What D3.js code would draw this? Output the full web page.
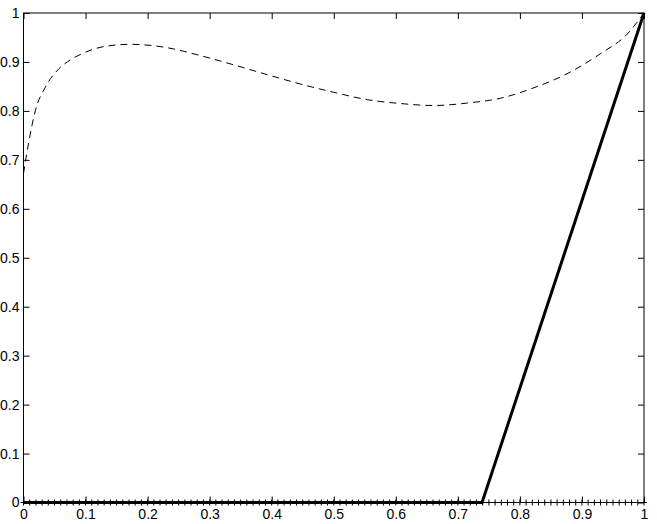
<!DOCTYPE html>
<html>
<head>
<meta charset="utf-8">
<script src="https://cdn.jsdelivr.net/npm/d3@7"></script>
<style>
  body { margin: 0; background: #fff; }
</style>
</head>
<body>
<div id="chart"></div>
<script>
// dashed curve
const curveX = [0, 0.009, 0.019, 0.035, 0.057, 0.078, 0.10, 0.132, 0.172, 0.232, 0.285, 0.339, 0.393, 0.446, 0.50, 0.554, 0.608, 0.661, 0.715, 0.769, 0.822, 0.876, 0.93, 0.973, 1];
const curveY = [0.672, 0.740, 0.80, 0.848, 0.886, 0.906, 0.92, 0.932, 0.936, 0.929, 0.913, 0.894, 0.874, 0.855, 0.838, 0.823, 0.815, 0.811, 0.816, 0.826, 0.847, 0.876, 0.917, 0.957, 1];

// thick solid line
const solidX = [0, 0.739, 1];
const solidY = [0, 0, 1];

// markers along y = 0, every 0.01
const markX = d3.range(0, 101).map(i => i / 100);

const ticks = [0, 0.1, 0.2, 0.3, 0.4, 0.5, 0.6, 0.7, 0.8, 0.9, 1];
const tickLabels = ["0", "0.1", "0.2", "0.3", "0.4", "0.5", "0.6", "0.7", "0.8", "0.9", "1"];

const width = 657;
const height = 524;

const x = d3.scaleLinear().domain([0, 1]).range([23.5, 644]);
const y = d3.scaleLinear().domain([0, 1]).range([502.5, 13]);

const svg = d3.select("#chart")
     .append("svg")
          .attr("width", width)
          .attr("height", height);

// box
svg.append("rect")
     .attr("x", x(0))
     .attr("y", y(1))
     .attr("width", x(1) - x(0))
     .attr("height", y(0) - y(1))
     .attr("fill", "none")
     .attr("stroke", "#000")
     .attr("stroke-width", 1);

const fmt = (d, i) => tickLabels[i];

// label text style for the axis groups
function labelStyle(g) {
     g.attr("font-family", "'Liberation Sans', Arial, Helvetica, sans-serif")
      .attr("font-size", 14);
     g.selectAll("text").attr("fill", "#000");
}

// inside ticks on all four sides
svg.append("g")
     .attr("transform", `translate(0, ${y(0)})`)
     .call(d3.axisTop(x).tickValues(ticks).tickSize(6).tickFormat(""))
     .call(g => g.select(".domain").remove());

svg.append("g")
     .attr("transform", `translate(0, ${y(0)})`)
     .call(d3.axisBottom(x).tickValues(ticks).tickSize(0).tickPadding(7).tickFormat(fmt))
     .call(g => g.select(".domain").remove())
     .call(labelStyle);

svg.append("g")
     .attr("transform", `translate(0, ${y(1)})`)
     .call(d3.axisBottom(x).tickValues(ticks).tickSize(6).tickFormat(""))
     .call(g => g.select(".domain").remove());

svg.append("g")
     .attr("transform", `translate(${x(0)}, 0)`)
     .call(d3.axisRight(y).tickValues(ticks).tickSize(6).tickFormat(""))
     .call(g => g.select(".domain").remove());

svg.append("g")
     .attr("transform", `translate(${x(0)}, 0)`)
     .call(d3.axisLeft(y).tickValues(ticks).tickSize(0).tickPadding(4).tickFormat(fmt))
     .call(g => g.select(".domain").remove())
     .call(labelStyle);

svg.append("g")
     .attr("transform", `translate(${x(1)}, 0)`)
     .call(d3.axisLeft(y).tickValues(ticks).tickSize(6).tickFormat(""))
     .call(g => g.select(".domain").remove());

svg.selectAll(".tick line").attr("stroke", "#000");

// dashed curve
const dashLine = d3.line()
     .x(d => x(d[0]))
     .y(d => y(d[1]))
     .curve(d3.curveMonotoneX);

svg.append("path")
     .datum(d3.zip(curveX, curveY))
     .attr("d", dashLine)
     .attr("fill", "none")
     .attr("stroke", "#000")
     .attr("stroke-width", 1)
     .attr("stroke-dasharray", "7,5");

// thick solid line
svg.append("path")
     .datum(d3.zip(solidX, solidY))
     .attr("d", d3.line().x(d => x(d[0])).y(d => y(d[1])))
     .attr("fill", "none")
     .attr("stroke", "#000")
     .attr("stroke-width", 3)
     .attr("stroke-linejoin", "miter");

// plus markers at y = 0
svg.append("g")
     .selectAll("path")
     .data(markX)
     .enter()
          .append("path")
               .attr("d", d => `M${x(d) - 3},${y(0)}H${x(d) + 3}M${x(d)},${y(0) - 3}V${y(0) + 3}`)
               .attr("stroke", "#000")
               .attr("stroke-width", 1)
               .attr("fill", "none");
</script>
</body>
</html>
